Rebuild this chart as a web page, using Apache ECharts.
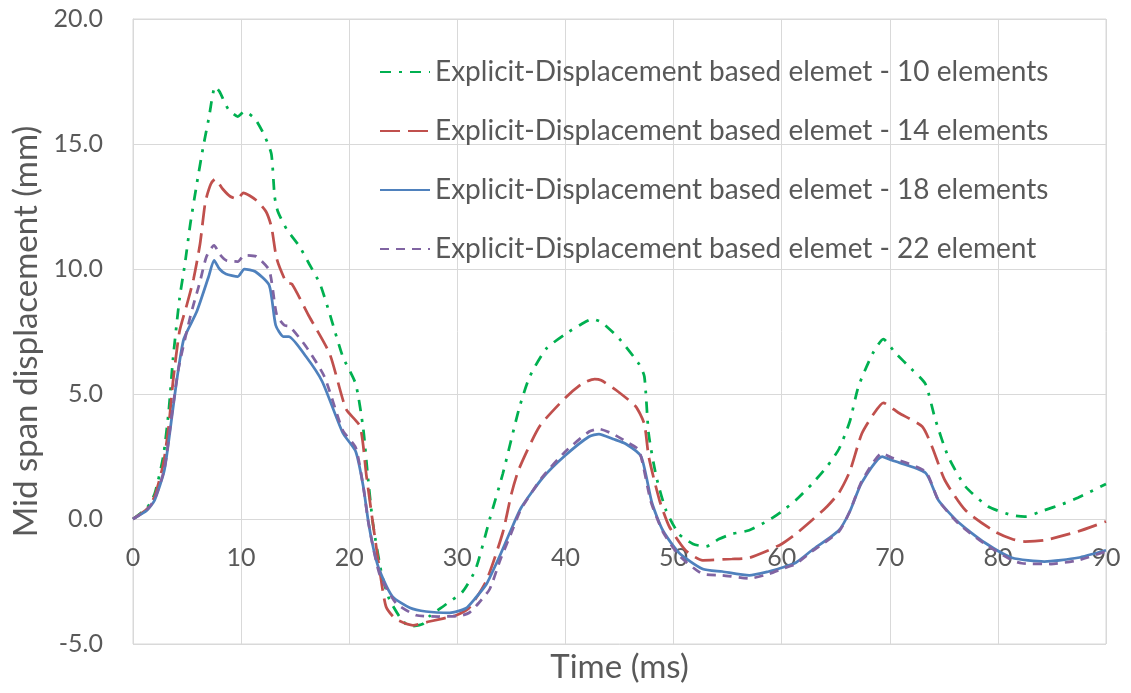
<!DOCTYPE html>
<html>
<head>
<meta charset="utf-8">
<title>Mid span displacement</title>
<script src="https://cdn.jsdelivr.net/npm/echarts@6/dist/echarts.min.js"></script>
<style>
  html, body { margin: 0; padding: 0; background: #ffffff; }
  #chart { width: 1131px; height: 693px; }
</style>
</head>
<body>
<div id="chart"></div>
<script>
// Mid span displacement histories, [time (ms), displacement (mm)]
const elements10 = [
  [0, 0], [1.3, 0.45], [2.0, 1.0], [2.8, 2.5], [3.3, 4.3], [3.7, 6.4], [4.3, 8.8],
  [4.8, 10.2], [5.3, 11.8], [5.9, 13.4], [6.5, 14.9], [7.0, 16.0], [7.6, 17.3],
  [8.0, 17.1], [8.8, 16.4], [9.7, 16.1], [10.3, 16.3], [11.3, 16.0], [12.2, 15.3],
  [12.8, 14.6], [13.1, 12.9], [13.4, 12.3], [14.2, 11.6], [15.4, 10.9], [16.3, 10.2],
  [17.3, 9.4], [18.2, 8.2], [19.4, 6.5], [20.6, 5.4], [21.3, 3.6], [21.7, 1.8],
  [22.2, -0.2], [23.0, -2.2], [23.7, -3.2], [24.8, -4.0], [25.6, -4.3], [26.8, -4.2],
  [27.4, -3.9], [29.0, -3.4], [30.5, -2.9], [31.7, -2.0], [33.0, 0.0], [34.2, 1.8],
  [35.7, 4.4], [36.7, 5.7], [38.2, 6.8], [40.0, 7.4], [41.5, 7.8], [42.5, 8.0],
  [43.4, 7.85], [45.0, 7.2], [46.8, 6.2], [47.3, 5.7], [47.7, 3.4], [48.4, 1.7],
  [49.3, 0.35], [50.5, -0.6], [51.8, -1.0], [53.0, -1.1], [54.2, -0.8], [55.4, -0.6],
  [57.0, -0.45], [58.8, -0.05], [60.0, 0.3], [61.3, 0.75], [62.8, 1.4], [64.2, 2.1],
  [65.3, 2.8], [66.3, 3.9], [67.1, 5.3], [68.4, 6.6], [69.4, 7.2], [70.5, 6.65],
  [72.0, 6.0], [73.3, 5.4], [74.2, 4.0], [75.4, 2.5], [77.0, 1.3], [79.1, 0.5],
  [81.3, 0.15], [82.5, 0.1], [84.3, 0.35], [86.0, 0.6], [87.4, 0.85], [90.0, 1.4]
];

const elements14 = [
  [0, 0], [1.3, 0.4], [2.0, 0.9], [2.8, 2.2], [3.3, 3.7], [3.7, 5.5], [4.3, 7.5],
  [5.0, 8.6], [5.6, 9.6], [6.2, 11.0], [6.7, 12.7], [7.2, 13.4], [7.6, 13.6],
  [8.3, 13.2], [9.0, 12.9], [9.7, 12.8], [10.2, 13.05], [11.4, 12.75], [12.3, 12.3],
  [12.8, 11.7], [13.3, 10.4], [14.2, 9.45], [14.7, 9.4], [16.3, 8.1], [18.2, 6.6],
  [19.7, 4.4], [21.0, 3.7], [21.6, 1.7], [22.2, -0.2], [22.8, -2.0], [23.4, -3.5],
  [24.3, -4.0], [25.9, -4.25], [27.4, -4.1], [29.9, -3.85], [31.1, -3.55], [32.7, -2.45],
  [34.2, -0.55], [35.0, 1.0], [35.7, 2.0], [37.6, 3.7], [40.0, 4.85], [41.5, 5.4],
  [42.7, 5.6], [43.3, 5.55], [44.7, 5.15], [46.5, 4.5], [47.3, 3.8], [47.7, 2.5],
  [48.7, 0.75], [49.6, -0.3], [51.1, -1.25], [52.7, -1.65], [55.4, -1.6], [57.0, -1.55],
  [58.8, -1.25], [60.0, -1.0], [61.3, -0.6], [62.8, -0.05], [64.2, 0.5], [65.3, 1.05],
  [66.3, 1.9], [67.4, 3.4], [68.5, 4.2], [69.4, 4.65], [70.8, 4.25], [73.0, 3.7],
  [73.9, 2.9], [75.1, 1.55], [77.0, 0.35], [79.7, -0.5], [81.3, -0.8], [82.5, -0.9],
  [84.3, -0.85], [87.4, -0.5], [90.0, -0.1]
];

const elements18 = [
  [0, 0], [1.3, 0.35], [2.0, 0.75], [2.9, 1.95], [3.6, 4.1], [4.1, 5.7], [4.7, 7.2],
  [5.9, 8.3], [7.0, 9.7], [7.5, 10.35], [8.0, 10.0], [8.6, 9.8], [9.7, 9.7],
  [10.3, 10.0], [11.3, 9.9], [12.6, 9.35], [13.2, 7.75], [13.9, 7.3], [14.4, 7.3],
  [16.0, 6.5], [17.5, 5.5], [19.4, 3.45], [20.6, 2.7], [21.3, 1.3], [21.8, -0.2],
  [22.3, -1.3], [22.8, -2.05], [24.0, -3.1], [25.6, -3.55], [27.1, -3.7], [29.3, -3.75],
  [30.8, -3.57], [31.7, -3.15], [32.7, -2.6], [33.9, -1.5], [34.9, -0.5], [35.9, 0.45],
  [37.9, 1.65], [40.0, 2.55], [42.2, 3.3], [43.1, 3.4], [44.4, 3.2], [45.6, 3.0],
  [47.0, 2.5], [48.0, 0.65], [49.0, -0.45], [50.5, -1.35], [52.7, -2.0], [54.5, -2.1],
  [57.0, -2.25], [58.8, -2.1], [60.0, -1.95], [61.3, -1.75], [62.8, -1.25], [65.3, -0.45],
  [66.3, 0.3], [67.4, 1.45], [69.3, 2.5], [70.2, 2.35], [73.3, 1.85], [74.5, 0.75],
  [76.4, -0.15], [78.8, -0.95], [81.3, -1.55], [84.3, -1.7], [87.4, -1.55], [90.0, -1.25]
];

const elements22 = [
  [0, 0], [1.3, 0.38], [2.0, 0.8], [2.9, 2.0], [3.6, 4.2], [4.2, 6.0], [5.3, 8.1],
  [6.2, 9.5], [6.8, 10.5], [7.5, 10.95], [8.0, 10.6], [8.6, 10.35], [9.7, 10.3],
  [10.3, 10.55], [11.4, 10.5], [12.6, 9.95], [13.3, 8.15], [14.0, 7.75], [14.5, 7.7],
  [16.0, 6.9], [17.7, 5.7], [19.4, 3.55], [20.6, 2.85], [21.3, 1.3], [21.8, -0.2],
  [22.8, -2.2], [24.3, -3.35], [26.2, -3.85], [28.3, -3.9], [30.2, -3.88], [31.1, -3.75],
  [32.0, -3.35], [33.0, -2.8], [34.0, -1.6], [35.0, -0.55], [35.9, 0.4], [37.9, 1.7],
  [40.0, 2.7], [42.2, 3.5], [43.1, 3.6], [44.4, 3.4], [45.6, 3.1], [46.8, 2.75],
  [47.9, 0.7], [49.0, -0.5], [50.5, -1.45], [52.7, -2.2], [54.5, -2.25], [57.0, -2.38],
  [58.8, -2.2], [60.0, -2.0], [61.3, -1.8], [62.8, -1.3], [65.3, -0.5], [66.3, 0.3],
  [67.4, 1.5], [69.3, 2.63], [70.2, 2.45], [73.3, 1.9], [74.5, 0.75], [76.4, -0.2],
  [78.8, -1.0], [81.3, -1.65], [82.2, -1.77], [84.9, -1.8], [87.4, -1.65], [90.0, -1.3]
];

const seriesNames = [
  'Explicit-Displacement based elemet - 10 elements',
  'Explicit-Displacement based elemet - 14 elements',
  'Explicit-Displacement based elemet - 18 elements',
  'Explicit-Displacement based elemet - 22 element'
];

const FONT = 'Lato, "Open Sans", sans-serif';
const TEXT_COLOR = '#595959';
const GRID_COLOR = '#d9d9d9';

// Y range and where the time axis crosses it
const Y_MIN = -5, Y_MAX = 20, PLOT_TOP = 19, PLOT_BOTTOM = 49;
const PLOT_HEIGHT = 693 - PLOT_TOP - PLOT_BOTTOM;
const ZERO_SHIFT = PLOT_HEIGHT * (0 - Y_MIN) / (Y_MAX - Y_MIN);

const chart = echarts.init(document.getElementById('chart'), null, { renderer: 'canvas' });

function lineSeries(name, data, color, dash, width) {
  return {
    name: name,
    type: 'line',
    data: data,
    smooth: 0.2,
    symbol: 'none',
    showSymbol: false,
    lineStyle: { color: color, width: width, type: dash, cap: 'butt' },
    itemStyle: { color: color },
    emphasis: { disabled: true },
    animation: false
  };
}

chart.setOption({
  animation: false,
  backgroundColor: '#ffffff',
  grid: {
    left: 133, right: 25, top: PLOT_TOP, bottom: PLOT_BOTTOM,
    containLabel: false,
    outerBoundsMode: 'none',
    show: true, borderColor: GRID_COLOR, borderWidth: 1, backgroundColor: 'transparent'
  },
  legend: {
    orient: 'vertical',
    left: 374,
    top: 53,
    itemWidth: 50,
    itemHeight: 14,
    itemGap: 31,
    data: seriesNames,
    itemStyle: { opacity: 0 },
    textStyle: { fontFamily: FONT, fontSize: 28, lineHeight: 28, color: TEXT_COLOR },
    selectedMode: false
  },
  xAxis: {
    type: 'value',
    min: 0, max: 90, interval: 10,
    offset: -ZERO_SHIFT,
    axisLine: { onZero: false, lineStyle: { color: GRID_COLOR, width: 1 } },
    axisTick: { show: false },
    axisLabel: { fontFamily: FONT, fontSize: 25, color: TEXT_COLOR, margin: 26 },
    splitLine: { show: true, lineStyle: { color: GRID_COLOR, width: 1 } },
    name: 'Time (ms)',
    nameLocation: 'middle',
    nameGap: ZERO_SHIFT + 7,
    nameTextStyle: { fontFamily: FONT, fontSize: 33, color: TEXT_COLOR }
  },
  yAxis: {
    type: 'value',
    min: Y_MIN, max: Y_MAX, interval: 5,
    axisLine: { show: true, onZero: false, lineStyle: { color: GRID_COLOR, width: 1 } },
    axisTick: { show: false },
    axisLabel: {
      fontFamily: FONT, fontSize: 25, color: TEXT_COLOR, margin: 30,
      formatter: function (v) { return v.toFixed(1); }
    },
    splitLine: { show: true, lineStyle: { color: GRID_COLOR, width: 1 } },
    name: 'Mid span displacement (mm)',
    nameLocation: 'middle',
    nameGap: 89,
    nameTextStyle: { fontFamily: FONT, fontSize: 33, color: TEXT_COLOR }
  },
  series: [
    lineSeries(seriesNames[0], elements10, '#00b050', [11, 8, 3, 8], 2.75),
    lineSeries(seriesNames[1], elements14, '#c0504d', [20, 8], 2.75),
    lineSeries(seriesNames[2], elements18, '#4f81bd', 'solid', 2.75),
    lineSeries(seriesNames[3], elements22, '#8064a2', [9, 7], 2.75)
  ]
});
</script>
</body>
</html>
